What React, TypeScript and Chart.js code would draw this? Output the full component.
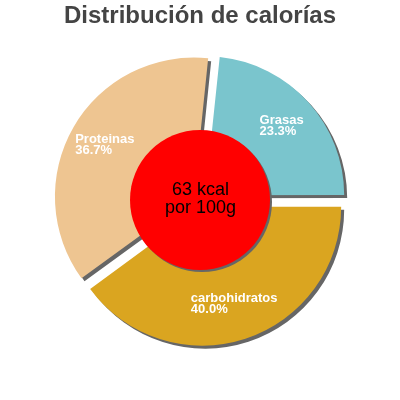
import React, { useEffect, useRef } from "react";
import { Chart, registerables } from "chart.js";

Chart.register(...registerables);

// ---- data ----
const categories: string[] = ["Grasas", "carbohidratos", "Proteinas"];
const percentages: number[] = [23.3, 40.0, 36.7];
const sliceColors: string[] = ["#7AC5CD", "#DAA520", "#EEC591"];
const titleText = "Distribución de calorías";
const centerLines: string[] = ["63 kcal", "por 100g"];

// ---- style ----
const FONT = '"Liberation Sans", Arial, Helvetica, sans-serif';
const EXPLODE = 7; // px each slice is pulled out
const TITLE_SIZE = 24;
const TITLE_PAD_TOP = 2;
const TITLE_H = TITLE_SIZE * 1.2 + TITLE_PAD_TOP;

function fixFor(circ: number) {
  return 1 - Math.sin(Math.min(Math.PI, circ || 0));
}

const decorPlugin = {
  id: "pieDecor",
  beforeDatasetsDraw(chart: any) {
    const meta = chart.getDatasetMeta(0);
    const ctrl = meta.controller;
    // keep every exploded slice at the same radius
    meta.data.forEach((arc: any) => {
      arc.outerRadius = ctrl.outerRadius - EXPLODE * fixFor(arc.circumference);
    });
    const ctx = chart.ctx;
    ctx.save();
    ctx.shadowColor = "#666666";
    ctx.shadowOffsetX = 3;
    ctx.shadowOffsetY = 3;
    ctx.shadowBlur = 0;
  },
  afterDatasetsDraw(chart: any) {
    const ctx = chart.ctx;
    ctx.restore();
    const meta = chart.getDatasetMeta(0);
    const first = meta.data[0];
    const cx = first.x;
    const cy = first.y;
    const R = meta.controller.outerRadius;

    // centre disc
    ctx.save();
    ctx.shadowColor = "#666666";
    ctx.shadowOffsetX = 2;
    ctx.shadowOffsetY = 2;
    ctx.shadowBlur = 0;
    ctx.beginPath();
    ctx.arc(cx, cy, 70, 0, Math.PI * 2);
    ctx.fillStyle = "#FF0000";
    ctx.fill();
    ctx.restore();

    // centre text
    ctx.save();
    ctx.fillStyle = "#000000";
    ctx.font = `18px ${FONT}`;
    ctx.textAlign = "center";
    ctx.textBaseline = "alphabetic";
    ctx.fillText(centerLines[0], cx + 0.5, cy - 5);
    ctx.fillText(centerLines[1], cx + 0.5, cy + 13);
    ctx.restore();

    // slice labels
    ctx.save();
    ctx.fillStyle = "#FFFFFF";
    ctx.font = `bold 13px ${FONT}`;
    ctx.textAlign = "left";
    ctx.textBaseline = "alphabetic";
    meta.data.forEach((arc: any, i: number) => {
      const h = (arc.startAngle + arc.endAngle) / 2;
      const d = EXPLODE + R * 0.74;
      const lx = arc.x + Math.cos(h) * d;
      const ly = arc.y + Math.sin(h) * d;
      const l1 = categories[i];
      const l2 = percentages[i].toFixed(1) + "%";
      const w = Math.max(ctx.measureText(l1).width, ctx.measureText(l2).width);
      const left = lx - w / 2;
      ctx.fillText(l1, left, ly - 2);
      ctx.fillText(l2, left, ly + 9);
    });
    ctx.restore();
  },
};

export default function App() {
  const canvasRef = useRef<HTMLCanvasElement | null>(null);

  useEffect(() => {
    if (!canvasRef.current) return;
    const chart = new Chart(canvasRef.current, {
      type: "pie",
      data: {
        labels: categories,
        datasets: [
          {
            data: percentages,
            backgroundColor: sliceColors,
            borderWidth: 0,
            offset: EXPLODE * 4,
            hoverOffset: EXPLODE * 4,
          },
        ],
      },
      options: {
        responsive: false,
        animation: false,
        events: [],
        rotation: 6,
        radius: 139,
        layout: { padding: { top: 0, bottom: TITLE_H, left: 0, right: 0 } },
        plugins: {
          legend: { display: false },
          tooltip: { enabled: false },
          title: {
            display: true,
            text: titleText,
            color: "#444444",
            font: { family: FONT, size: TITLE_SIZE, weight: "bold" },
            padding: { top: TITLE_PAD_TOP, bottom: 0 },
          },
        },
      } as any,
      plugins: [decorPlugin],
    });
    return () => chart.destroy();
  }, []);

  return (
    <div style={{ position: "absolute", left: 0, top: 0, width: 400, height: 400 }}>
      <canvas ref={canvasRef} width={400} height={400} style={{ display: "block" }} />
    </div>
  );
}
